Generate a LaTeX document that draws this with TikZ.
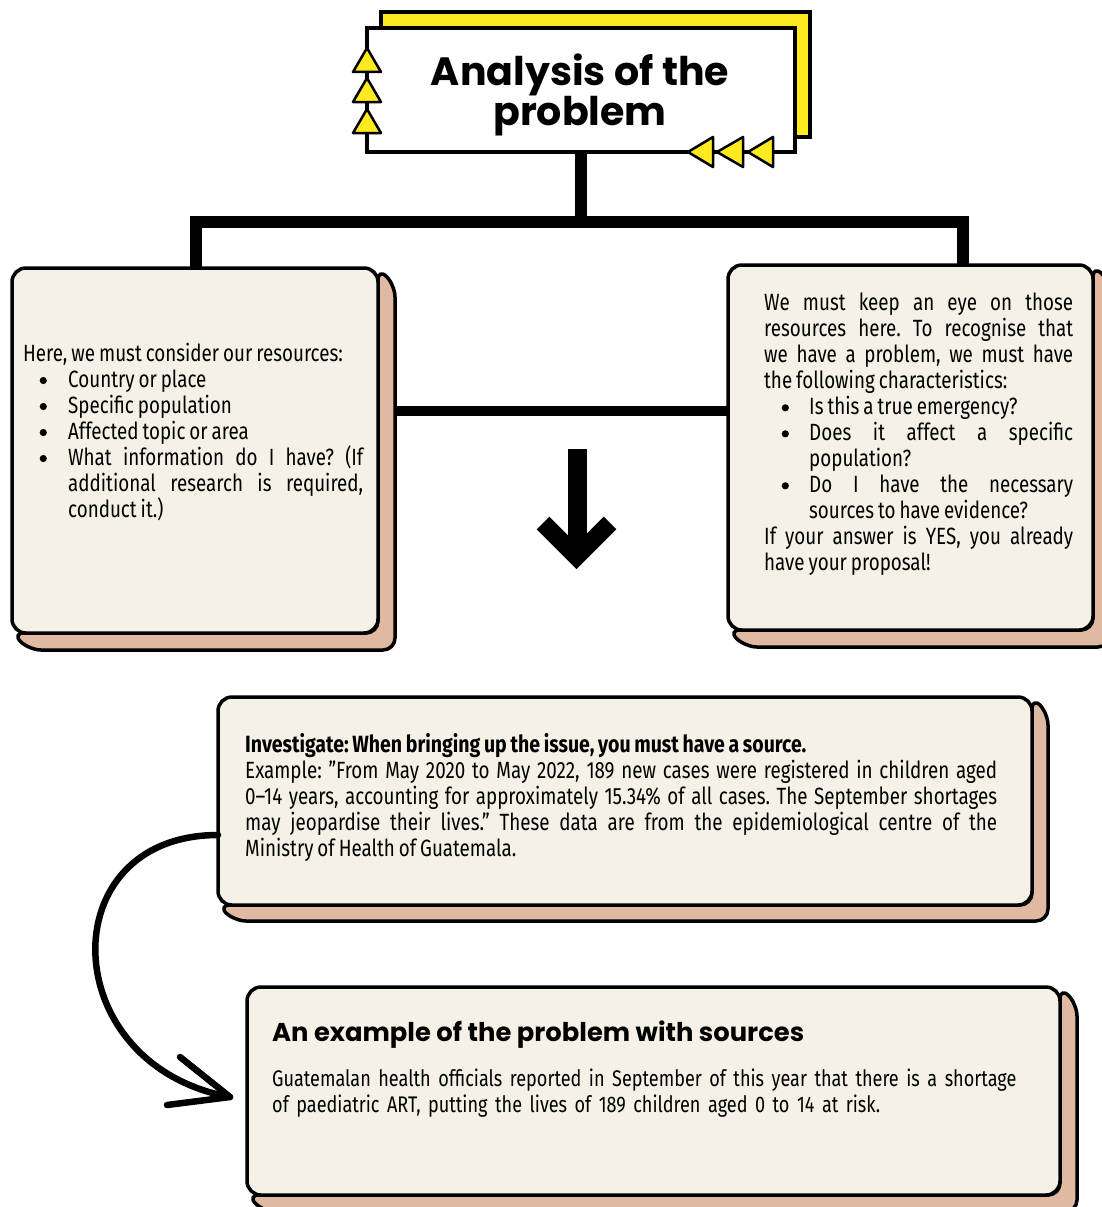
\documentclass[tikz,border=0pt]{standalone}
\usepackage{fontspec}
\setmainfont{Fira Sans}[FakeStretch=0.80, WordSpace=0.8, BoldFeatures={FakeStretch=0.83}]
\newfontfamily\titlefont{Poppins}
\usetikzlibrary{calc}
\definecolor{cream}{HTML}{F5F1E6}
\definecolor{tanc}{HTML}{E0B9A2}
\definecolor{yel}{HTML}{FFE91F}
\pgfdeclarelayer{back}
\pgfsetlayers{back,main}
\newcommand{\mybullet}{\tikz[baseline=-7pt]\fill[black] (0pt,0pt) circle (3.6pt);}
\newenvironment{blist}[1][16.5pt]{\begin{list}{\mybullet}{\setlength{\leftmargin}{45pt}\setlength{\labelwidth}{45pt}\setlength{\labelsep}{0pt}\setlength{\topsep}{0pt}\setlength{\partopsep}{0pt}\setlength{\parsep}{0pt}\setlength{\itemsep}{0pt}\setlength{\itemindent}{0pt}\renewcommand{\makelabel}[1]{\hspace{#1}##1\hfill}}}{\end{list}}
\newcommand{\shadowof}[2]{\path[cardshadow] (#1.north east) -- ([shift={(#2,#2)}]#1.north east) -- ([shift={(#2,#2)}]#1.south east) -- ([shift={(#2,#2)}]#1.south west) -- (#1.south west) -- (#1.south east) -- cycle;}
\tikzset{
  card/.style={draw=black, fill=cream, line width=3.5pt, rounded corners=14pt, outer sep=0pt, inner sep=0pt, anchor=north west},
  cardshadow/.style={draw=black, fill=tanc, line width=3.5pt, rounded corners=12pt, line join=round},
  conn/.style={draw=black, line width=12pt, line join=miter},
  midconn/.style={draw=black, line width=10pt},
  bodytext/.style={anchor=north west, inner sep=0pt, align=justify, font=\fontsize{23.5}{26}\selectfont\frenchspacing},
  tri/.style={fill=yel, draw=black, line width=2.5pt, line join=round},
  curvearrow/.style={draw=black, line width=6.5pt, line cap=round, line join=round},
  bigarrow/.style={draw=black, line width=19pt},
  headfont/.style={font=\titlefont\bfseries\fontsize{25.8}{28}\selectfont}
}
\begin{document}
\begin{tikzpicture}[x=1pt,y=-1pt]
\useasboundingbox (0,0) rectangle (1101,1207);

% title
\node[draw=black, fill=white, line width=4pt, minimum width=428pt, minimum height=124pt, anchor=north west, outer sep=0pt] (T) at (367,28) {};
\node[align=center, inner sep=0pt, font=\titlefont\bfseries\fontsize{39.5}{38.5}\selectfont] (Ttext) at (580,95) {Analysis of the\\problem};
\path[tri] (353,72) -- (367,48) -- (381,72) -- cycle;
\path[tri] (353,102) -- (367,78) -- (381,102) -- cycle;
\path[tri] (353,133) -- (367,109) -- (381,133) -- cycle;
\path[tri] (688,152) -- (713,137) -- (713,167) -- cycle;
\path[tri] (717,152) -- (743,137) -- (743,167) -- cycle;
\path[tri] (748,152) -- (773,137) -- (773,167) -- cycle;

% cards
\node[card, minimum width=366pt, minimum height=365pt] (L) at (12,268) {};
\node[card, minimum width=365pt, minimum height=365pt] (R) at (728,265) {};
\node[card, minimum width=814pt, minimum height=208pt] (I) at (218,697) {};
\node[card, minimum width=813pt, minimum height=208pt] (B) at (247,987) {};

% texts
\node[bodytext, text width=340pt] (Ltext) at (23,343) {Here, we must consider our resources:
\begin{blist}
\item Country or place
\item Specific population
\item Affected topic or area
\item What information do I have? (If \linebreak additional research is required, \linebreak conduct it.)
\end{blist}};

\node[bodytext, text width=309pt] (Rtext) at (764,293) {We must keep an eye on those \linebreak resources here. To recognise that \linebreak we have a problem, we must have \linebreak the following characteristics:
\begin{blist}[17.5pt]
\item Is this a true emergency?
\item Does it affect a specific \linebreak population?
\item Do I have the necessary \linebreak sources to have evidence?
\end{blist}
\noindent If your answer is YES, you already \linebreak have your proposal!};

\node[bodytext, text width=752pt] (Itext) at (245,733) {\textbf{Investigate: When bringing up the issue, you must have a source.}\par\noindent Example: "From May 2020 to May 2022, 189 new cases were registered in children aged \linebreak 0–14 years, accounting for approximately 15.34\% of all cases. The September shortages \linebreak may jeopardise their lives." These data are from the epidemiological centre of the \linebreak Ministry of Health of Guatemala.};

\node[headfont, anchor=base west, inner sep=0pt] (Bhead) at (272,1041) {An example of the problem with sources};
\node[bodytext, align=left, text width=800pt, font=\fontsize{22.6}{26}\selectfont] (Btext) at (272,1069) {Guatemalan health officials reported in September of this year that there is a shortage\\of paediatric ART, putting the lives of 189 children aged 0 to 14 at risk.};

% down arrow
\draw[bigarrow] (577,449) -- (577,552);
\draw[draw=black, line width=18pt, line join=miter] (543,523) -- (576.5,556.5) -- (610,523);

% curved arrow
\coordinate (cs) at (0,835);
\coordinate (tip) at (230,1097);
\draw[curvearrow] (I.west |- cs) .. controls (50,835) and (55,1065) .. (tip);
\draw[curvearrow] (180,1057) -- (tip) -- (167,1105);

\begin{pgfonlayer}{back}
  \fill[white] (0,0) rectangle (1101,1207);
  \filldraw[fill=yel, draw=black, line width=4pt] (381,12) rectangle (810,137);
  \coordinate (bl) at (196,222);
  \coordinate (br) at (963,222);
  \coordinate (midy) at (0,411);
  \draw[conn] (T.south) -- (T.south |- bl);
  \draw[conn] (L.north -| bl) -- (bl) -- (br) -- (R.north -| br);
  \draw[midconn] (L.east |- midy) -- (R.west |- midy);
  \shadowof{L}{17}
  \shadowof{R}{17}
  \shadowof{I}{16}
  \shadowof{B}{17}
\end{pgfonlayer}
\end{tikzpicture}
\end{document}
